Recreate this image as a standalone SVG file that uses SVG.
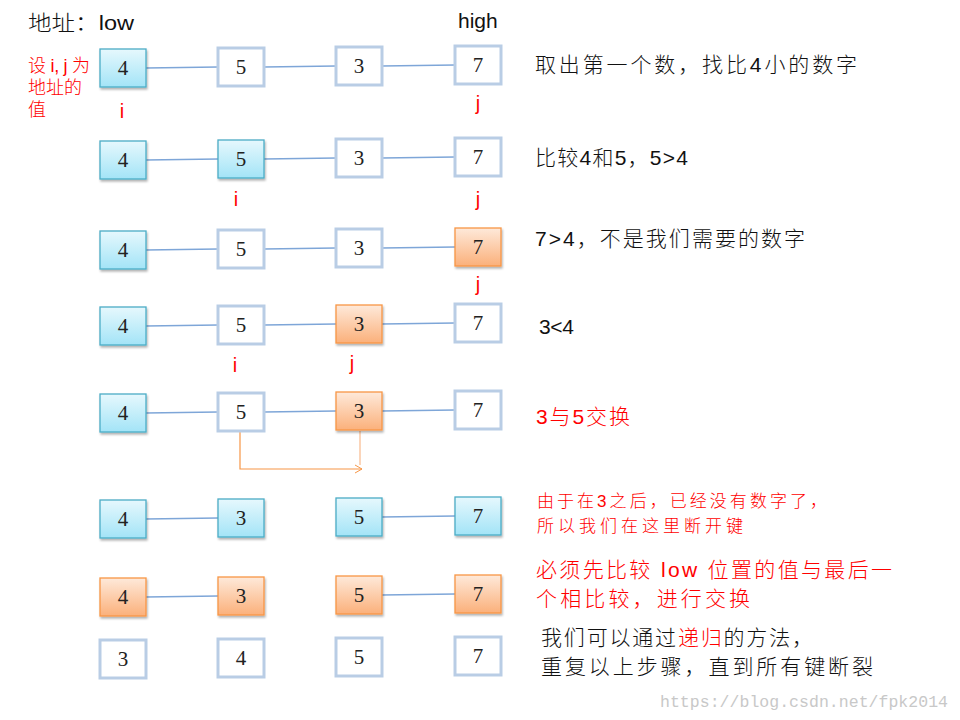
<svg xmlns="http://www.w3.org/2000/svg" width="960" height="720" viewBox="0 0 960 720">
<defs>
<linearGradient id="gb" x1="0" y1="0" x2="0" y2="1"><stop offset="0" stop-color="#e6f8fd"/><stop offset="1" stop-color="#a3e4f7"/></linearGradient>
<linearGradient id="go" x1="0" y1="0" x2="0" y2="1"><stop offset="0" stop-color="#fee9da"/><stop offset="1" stop-color="#fbb07b"/></linearGradient>
<filter id="sh" x="-20%" y="-20%" width="150%" height="160%"><feDropShadow dx="1" dy="2" stdDeviation="1.3" flood-color="#000" flood-opacity="0.3"/></filter>
<marker id="ah" markerWidth="10" markerHeight="10" refX="8" refY="5" orient="auto" markerUnits="userSpaceOnUse"><path d="M1,1 L8,5 L1,9" fill="none" stroke="#f79646" stroke-width="1"/></marker>
</defs>
<style>
.w{fill:#fff;stroke:#b9cde5;stroke-width:3}
.b{fill:url(#gb);stroke:#4bacc6;stroke-width:1.3;filter:url(#sh)}
.o{fill:url(#go);stroke:#f79646;stroke-width:1.3;filter:url(#sh)}
.n{font-family:"Liberation Serif","Times New Roman",serif;font-size:21px;fill:#222;text-anchor:middle}
.c{stroke:#7ea6d8;stroke-width:1.5;fill:none}
.lbl{font-family:"Liberation Sans",Arial,sans-serif;font-size:20px;fill:#ff0000;text-anchor:middle}
.t{font-family:"Liberation Sans","Noto Sans CJK SC",sans-serif;font-size:21px;fill:#111;font-weight:300}
.r{fill:#ff0000}
.s{font-size:17px}
.m{font-size:18px}
</style>
<rect width="960" height="720" fill="#fff"/>
<g id="connectors">
<line class="c" x1="146" y1="68" x2="218" y2="67"/><line class="c" x1="264" y1="67" x2="336" y2="66"/><line class="c" x1="382" y1="66" x2="455" y2="65"/>
<line class="c" x1="146" y1="160" x2="218" y2="159"/><line class="c" x1="264" y1="159" x2="336" y2="158"/><line class="c" x1="382" y1="158" x2="455" y2="157"/>
<line class="c" x1="146" y1="250" x2="218" y2="249"/><line class="c" x1="264" y1="249" x2="336" y2="248"/><line class="c" x1="382" y1="248" x2="455" y2="247"/>
<line class="c" x1="146" y1="326" x2="218" y2="325"/><line class="c" x1="264" y1="325" x2="336" y2="324"/><line class="c" x1="382" y1="324" x2="455" y2="323"/>
<line class="c" x1="146" y1="413" x2="218" y2="412"/><line class="c" x1="264" y1="412" x2="336" y2="411"/><line class="c" x1="382" y1="411" x2="455" y2="410"/>
<line class="c" x1="146" y1="519" x2="218" y2="518"/><line class="c" x1="382" y1="517" x2="455" y2="516"/>
<line class="c" x1="146" y1="597" x2="218" y2="596"/><line class="c" x1="382" y1="595" x2="455" y2="594"/>
<path d="M240,432 V469 H362" fill="none" stroke="#f79646" stroke-width="1.2" marker-end="url(#ah)"/>
<line x1="360" y1="431" x2="360" y2="465" stroke="#f9b98c" stroke-width="1.2"/>
</g>
<g id="r1">
<g id="n1_1"><rect class="b" x="100" y="49" width="46" height="38"/><text class="n" x="123" y="75">4</text></g>
<g id="n1_2"><rect class="w" x="218" y="48" width="46" height="38"/><text class="n" x="241" y="74">5</text></g>
<g id="n1_3"><rect class="w" x="336" y="47" width="46" height="38"/><text class="n" x="359" y="73">3</text></g>
<g id="n1_4"><rect class="w" x="455" y="46" width="46" height="38"/><text class="n" x="478" y="72">7</text></g>
</g>
<g id="r2">
<g id="n2_1"><rect class="b" x="100" y="141" width="46" height="38"/><text class="n" x="123" y="167">4</text></g>
<g id="n2_2"><rect class="b" x="218" y="140" width="46" height="38"/><text class="n" x="241" y="166">5</text></g>
<g id="n2_3"><rect class="w" x="336" y="139" width="46" height="38"/><text class="n" x="359" y="165">3</text></g>
<g id="n2_4"><rect class="w" x="455" y="138" width="46" height="38"/><text class="n" x="478" y="164">7</text></g>
</g>
<g id="r3">
<g id="n3_1"><rect class="b" x="100" y="231" width="46" height="38"/><text class="n" x="123" y="257">4</text></g>
<g id="n3_2"><rect class="w" x="218" y="230" width="46" height="38"/><text class="n" x="241" y="256">5</text></g>
<g id="n3_3"><rect class="w" x="336" y="229" width="46" height="38"/><text class="n" x="359" y="255">3</text></g>
<g id="n3_4"><rect class="o" x="455" y="228" width="46" height="38"/><text class="n" x="478" y="254">7</text></g>
</g>
<g id="r4">
<g id="n4_1"><rect class="b" x="100" y="307" width="46" height="38"/><text class="n" x="123" y="333">4</text></g>
<g id="n4_2"><rect class="w" x="218" y="306" width="46" height="38"/><text class="n" x="241" y="332">5</text></g>
<g id="n4_3"><rect class="o" x="336" y="305" width="46" height="38"/><text class="n" x="359" y="331">3</text></g>
<g id="n4_4"><rect class="w" x="455" y="304" width="46" height="38"/><text class="n" x="478" y="330">7</text></g>
</g>
<g id="r5">
<g id="n5_1"><rect class="b" x="100" y="394" width="46" height="38"/><text class="n" x="123" y="420">4</text></g>
<g id="n5_2"><rect class="w" x="218" y="393" width="46" height="38"/><text class="n" x="241" y="419">5</text></g>
<g id="n5_3"><rect class="o" x="336" y="392" width="46" height="38"/><text class="n" x="359" y="418">3</text></g>
<g id="n5_4"><rect class="w" x="455" y="391" width="46" height="38"/><text class="n" x="478" y="417">7</text></g>
</g>
<g id="r6">
<g id="n6_1"><rect class="b" x="100" y="500" width="46" height="38"/><text class="n" x="123" y="526">4</text></g>
<g id="n6_2"><rect class="b" x="218" y="499" width="46" height="38"/><text class="n" x="241" y="525">3</text></g>
<g id="n6_3"><rect class="b" x="336" y="498" width="46" height="38"/><text class="n" x="359" y="524">5</text></g>
<g id="n6_4"><rect class="b" x="455" y="497" width="46" height="38"/><text class="n" x="478" y="523">7</text></g>
</g>
<g id="r7">
<g id="n7_1"><rect class="o" x="100" y="578" width="46" height="38"/><text class="n" x="123" y="604">4</text></g>
<g id="n7_2"><rect class="o" x="218" y="577" width="46" height="38"/><text class="n" x="241" y="603">3</text></g>
<g id="n7_3"><rect class="o" x="336" y="576" width="46" height="38"/><text class="n" x="359" y="602">5</text></g>
<g id="n7_4"><rect class="o" x="455" y="575" width="46" height="38"/><text class="n" x="478" y="601">7</text></g>
</g>
<g id="r8">
<g id="n8_1"><rect class="w" x="100" y="640" width="46" height="38"/><text class="n" x="123" y="666">3</text></g>
<g id="n8_2"><rect class="w" x="218" y="639" width="46" height="38"/><text class="n" x="241" y="665">4</text></g>
<g id="n8_3"><rect class="w" x="336" y="638" width="46" height="38"/><text class="n" x="359" y="664">5</text></g>
<g id="n8_4"><rect class="w" x="455" y="637" width="46" height="38"/><text class="n" x="478" y="663">7</text></g>
</g>
<g id="pointers">
<text class="lbl" x="122" y="118">i</text><text class="lbl" x="478" y="110">j</text>
<text class="lbl" x="236" y="206">i</text><text class="lbl" x="478" y="206">j</text>
<text class="lbl" x="478" y="291">j</text>
<text class="lbl" x="235" y="372">i</text><text class="lbl" x="352" y="370">j</text>
</g>
<g id="labels">
<text class="t" x="28" y="30" textLength="106" lengthAdjust="spacingAndGlyphs">地址：low</text>
<text class="t" x="458" y="28">high</text>
<text class="t r m" x="28" y="72" textLength="62">设 i, j 为</text>
<text class="t r m" x="28" y="94">地址的</text>
<text class="t r m" x="28" y="116">值</text>
<text class="t" x="535" y="72" textLength="322">取出第一个数，找比4小的数字</text>
<text class="t" x="535" y="165" textLength="153">比较4和5，5&gt;4</text>
<text class="t" x="535" y="246" textLength="270">7&gt;4，不是我们需要的数字</text>
<text class="t" x="539" y="334" textLength="35">3&lt;4</text>
<text class="t r" x="536" y="424" textLength="94">3与5交换</text>
<text class="t r s" x="537" y="507" textLength="290">由于在3之后，已经没有数字了，</text>
<text class="t r s" x="537" y="532" textLength="206">所以我们在这里断开键</text>
<text class="t r" x="536" y="577" textLength="356">必须先比较 low 位置的值与最后一</text>
<text class="t r" x="536" y="606" textLength="214">个相比较，进行交换</text>
<text class="t" x="541" y="645" textLength="272">我们可以通过<tspan class="r">递归</tspan>的方法，</text>
<text class="t" x="541" y="674" textLength="332">重复以上步骤，直到所有键断裂</text>
<text x="660" y="707" font-family="Liberation Mono,'Courier New',monospace" font-size="16.5" fill="#c8c8c8" textLength="288">https://blog.csdn.net/fpk2014</text>
</g>
</svg>
